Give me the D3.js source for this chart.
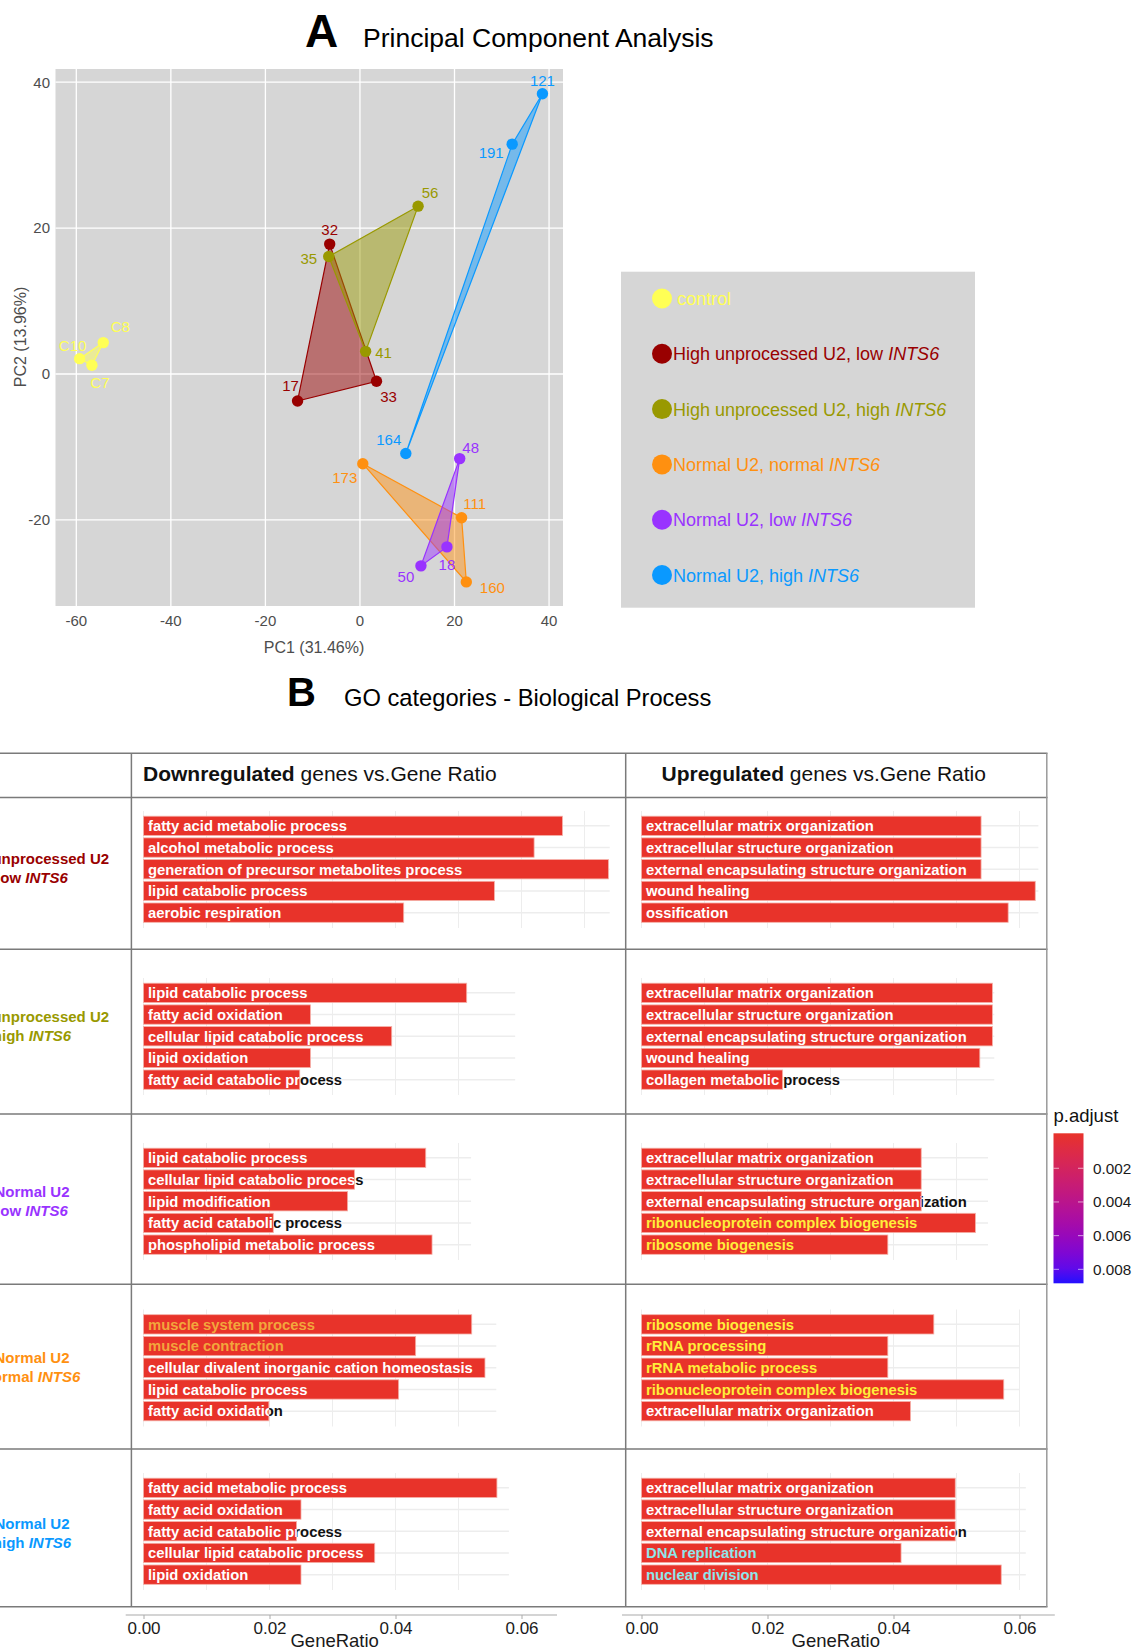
<!DOCTYPE html>
<html>
<head>
<meta charset="utf-8">
<script src="https://cdn.jsdelivr.net/npm/d3@7"></script>
<style>
body { margin: 0; background: #fff; }
svg text { font-family: "Liberation Sans", Arial, Helvetica, sans-serif; }
</style>
</head>
<body>
<svg id="fig" width="1139" height="1651"></svg>
<script>
// ---------- panel A : PCA ----------
const sampleIds   = ["C8", "C10", "C7", "32", "33", "17", "56", "35", "41", "173", "111", "160", "48", "18", "50", "121", "191", "164"];
const pc1         = [-54.3, -59.3, -56.7, -6.4, 3.5, -13.2, 12.3, -6.6, 1.2, 0.6, 21.5, 22.5, 21.1, 18.4, 12.9, 38.6, 32.2, 9.7];
const pc2         = [4.3, 2.1, 1.2, 17.8, -1.0, -3.7, 23.0, 16.1, 3.1, -12.3, -19.7, -28.5, -11.6, -23.7, -26.3, 38.4, 31.5, -10.9];
const sampleGroup = [0, 0, 0, 1, 1, 1, 2, 2, 2, 3, 3, 3, 4, 4, 4, 5, 5, 5];

const groupText   = [["control", ""], ["High unprocessed U2, low ", "INTS6"], ["High unprocessed U2, high ", "INTS6"],
                     ["Normal U2, normal ", "INTS6"], ["Normal U2, low ", "INTS6"], ["Normal U2, high ", "INTS6"]];
const groupColors = ["#ffff55", "#990000", "#999900", "#ff9010", "#9933ff", "#0a99ff"];
const pc1Ticks = [-60, -40, -20, 0, 20, 40];
const pc2Ticks = [-20, 0, 20, 40];

// where each sample label sits relative to its point (px)
const labelNudge = [[17, -16], [-7, -13], [8, 17], [0, -15], [12, 15], [-7, -15], [12, -14], [-20, 2], [18, 1],
                    [-18, 14], [13, -14], [26, 6], [11, -11], [0, 18], [-15, 11], [0, -13], [-21, 8], [-17, -14]];

// ---------- panel B : GO enrichment ----------
const rowLines1 = ["High unprocessed U2", "High unprocessed U2", "Normal U2", "Normal U2", "Normal U2"];
const rowLines2 = ["low ", "high ", "low ", "normal ", "high "];
const rowColors = ["#990000", "#999900", "#9933ff", "#ff9010", "#0a99ff"];

const downTerms = [
  ["fatty acid metabolic process", "alcohol metabolic process", "generation of precursor metabolites process", "lipid catabolic process", "aerobic respiration"],
  ["lipid catabolic process", "fatty acid oxidation", "cellular lipid catabolic process", "lipid oxidation", "fatty acid catabolic process"],
  ["lipid catabolic process", "cellular lipid catabolic process", "lipid modification", "fatty acid catabolic process", "phospholipid metabolic process"],
  ["muscle system process", "muscle contraction", "cellular divalent inorganic cation homeostasis", "lipid catabolic process", "fatty acid oxidation"],
  ["fatty acid metabolic process", "fatty acid oxidation", "fatty acid catabolic process", "cellular lipid catabolic process", "lipid oxidation"]
];
const downRatio = [
  [0.0665, 0.0620, 0.0738, 0.0557, 0.0413],
  [0.0513, 0.0265, 0.0394, 0.0265, 0.0248],
  [0.0448, 0.0335, 0.0324, 0.0206, 0.0458],
  [0.0521, 0.0432, 0.0542, 0.0405, 0.0199],
  [0.0561, 0.0250, 0.0243, 0.0367, 0.0250]
];
const downLimit = [0.074, 0.059, 0.052, 0.056, 0.058];

const upTerms = [
  ["extracellular matrix organization", "extracellular structure organization", "external encapsulating structure organization", "wound healing", "ossification"],
  ["extracellular matrix organization", "extracellular structure organization", "external encapsulating structure organization", "wound healing", "collagen metabolic process"],
  ["extracellular matrix organization", "extracellular structure organization", "external encapsulating structure organization", "ribonucleoprotein complex biogenesis", "ribosome biogenesis"],
  ["ribosome biogenesis", "rRNA processing", "rRNA metabolic process", "ribonucleoprotein complex biogenesis", "extracellular matrix organization"],
  ["extracellular matrix organization", "extracellular structure organization", "external encapsulating structure organization", "DNA replication", "nuclear division"]
];
const upRatio = [
  [0.0539, 0.0539, 0.0539, 0.0625, 0.0582],
  [0.0557, 0.0557, 0.0557, 0.0537, 0.0224],
  [0.0444, 0.0444, 0.0444, 0.0530, 0.0391],
  [0.0464, 0.0391, 0.0391, 0.0575, 0.0427],
  [0.0498, 0.0498, 0.0498, 0.0412, 0.0571]
];
const upLimit = [0.063, 0.056, 0.055, 0.060, 0.061];

const ratioTicks = [0, 0.02, 0.04, 0.06];
const padjTicks = [0.002, 0.004, 0.006, 0.008];
const padjRange = [0, 0.00883];

// terms whose label is printed in a highlight colour
const termHighlight = {
  "muscle system process": "#f2a63c", "muscle contraction": "#f2a63c",
  "ribosome biogenesis": "#ffee3a", "rRNA processing": "#ffee3a", "rRNA metabolic process": "#ffee3a",
  "ribonucleoprotein complex biogenesis": "#ffee3a",
  "DNA replication": "#8ee6ea", "nuclear division": "#8ee6ea"
};

const svg = d3.select("#fig");
svg.append("rect").attr("width", 1139).attr("height", 1651).attr("fill", "#fff");

// ======================= A =======================
svg.append("text").attr("x", 305).attr("y", 47).attr("font-size", 46).attr("font-weight", "bold").text("A");
svg.append("text").attr("x", 363).attr("y", 46.5).attr("font-size", 26.5).text("Principal Component Analysis");

const px = d3.scaleLinear().domain([-64.4, 42.95]).range([55.5, 563]);
const py = d3.scaleLinear().domain([-31.8, 41.8]).range([606, 69]);

svg.append("rect").attr("x", 55.5).attr("y", 69).attr("width", 563 - 55.5).attr("height", 606 - 69).attr("fill", "#d6d6d6");

const grid = svg.append("g");
grid.selectAll(".gx").data(pc1Ticks).enter().append("line")
  .attr("x1", d => px(d)).attr("x2", d => px(d)).attr("y1", 69).attr("y2", 606)
  .attr("stroke", "#fff").attr("stroke-width", 1.3);
grid.selectAll(".gy").data(pc2Ticks).enter().append("line")
  .attr("y1", d => py(d)).attr("y2", d => py(d)).attr("x1", 55.5).attr("x2", 563)
  .attr("stroke", "#fff").attr("stroke-width", 1.3);

svg.append("g").selectAll("text").data(pc1Ticks).enter().append("text")
  .attr("x", d => px(d)).attr("y", 626).attr("text-anchor", "middle")
  .attr("font-size", 15).attr("fill", "#4d4d4d").text(d => d);
svg.append("g").selectAll("text").data(pc2Ticks).enter().append("text")
  .attr("x", 50).attr("y", d => py(d)).attr("dy", "0.36em").attr("text-anchor", "end")
  .attr("font-size", 15).attr("fill", "#4d4d4d").text(d => d);
svg.append("text").attr("x", 314).attr("y", 653).attr("text-anchor", "middle")
  .attr("font-size", 16).attr("fill", "#4d4d4d").text("PC1 (31.46%)");
svg.append("text").attr("transform", "translate(26,337) rotate(-90)").attr("text-anchor", "middle")
  .attr("font-size", 16).attr("fill", "#4d4d4d").text("PC2 (13.96%)");

const samples = sampleIds.map((id, i) => ({id: id, x: pc1[i], y: pc2[i], g: sampleGroup[i], nudge: labelNudge[i]}));

// hull per group
groupColors.forEach((col, gi) => {
  const pts = samples.filter(s => s.g === gi).map(s => [px(s.x), py(s.y)]);
  const hull = d3.polygonHull(pts);
  svg.append("path")
    .attr("d", "M" + hull.join("L") + "Z")
    .attr("fill", col).attr("fill-opacity", 0.48)
    .attr("stroke", col).attr("stroke-width", 1.2);
});

svg.append("g").selectAll("circle").data(samples).enter().append("circle")
  .attr("cx", d => px(d.x)).attr("cy", d => py(d.y)).attr("r", 5.7)
  .attr("fill", d => groupColors[d.g]);

svg.append("g").selectAll("text").data(samples).enter().append("text")
  .attr("x", d => px(d.x) + d.nudge[0]).attr("y", d => py(d.y) + d.nudge[1])
  .attr("dy", "0.36em").attr("text-anchor", "middle").attr("font-size", 15)
  .attr("fill", d => groupColors[d.g]).text(d => d.id);

// legend
svg.append("rect").attr("x", 621).attr("y", 271.7).attr("width", 354).attr("height", 336).attr("fill", "#d6d6d6");
const ly = d3.scalePoint().domain(d3.range(groupText.length)).range([298.5, 575]);
const leg = svg.append("g").selectAll("g").data(groupText).enter().append("g");
leg.append("circle").attr("cx", 662).attr("cy", (d, i) => ly(i)).attr("r", 10).attr("fill", (d, i) => groupColors[i]);
const lt = leg.append("text").attr("x", (d, i) => i === 0 ? 677 : 673).attr("y", (d, i) => ly(i) + 6.5)
  .attr("font-size", 18).attr("fill", (d, i) => groupColors[i]);
lt.append("tspan").text(d => d[0]);
lt.append("tspan").attr("font-style", "italic").text(d => d[1]);

// ======================= B =======================
svg.append("text").attr("x", 287).attr("y", 706).attr("font-size", 40).attr("font-weight", "bold").text("B");
svg.append("text").attr("x", 344).attr("y", 705.5).attr("font-size", 23.7).text("GO categories - Biological Process");

const hLines = [753.3, 797.5, 949.3, 1114, 1284.3, 1449, 1606.7];
const vLines = [131.4, 625.7, 1046.8];
const table = svg.append("g");
table.selectAll(".h").data(hLines).enter().append("line")
  .attr("x1", 0).attr("x2", 1047.5).attr("y1", d => d).attr("y2", d => d)
  .attr("stroke", "#7a7a7a").attr("stroke-width", 1.5);
table.selectAll(".v").data(vLines).enter().append("line")
  .attr("x1", d => d).attr("x2", d => d).attr("y1", hLines[0]).attr("y2", hLines[hLines.length - 1])
  .attr("stroke", (d, i) => i === 2 ? "#9a9a9a" : "#7a7a7a").attr("stroke-width", 1.5);

// column headers
[["Downregulated", 143], ["Upregulated", 661.5]].forEach(h => {
  const t = svg.append("text").attr("x", h[1]).attr("y", 780.5).attr("font-size", 21).attr("fill", "#111");
  t.append("tspan").attr("font-weight", "bold").text(h[0]);
  t.append("tspan").text(" genes vs.Gene Ratio");
});

// row labels (cut by the left page edge, as in the figure)
const rowLabelY = [864, 1022, 1197, 1363, 1529];
rowLines1.forEach((l1, ri) => {
  const g = svg.append("g").attr("fill", rowColors[ri]).attr("font-size", 15).attr("font-weight", "bold");
  g.append("text").attr("x", 32).attr("y", rowLabelY[ri]).attr("text-anchor", "middle").text(l1);
  const t2 = g.append("text").attr("x", 32).attr("y", rowLabelY[ri] + 19).attr("text-anchor", "middle");
  t2.append("tspan").text(rowLines2[ri]);
  t2.append("tspan").attr("font-style", "italic").text("INTS6");
});

// bar cells
const blockTop = [816, 983, 1148, 1314.5, 1478];
const barFill = "#e8332a";
const columns = [
  {terms: downTerms, ratio: downRatio, limit: downLimit, x: d3.scaleLinear().domain([0, 0.06]).range([143.5, 521.5]), axisLine: [125.7, 557], titleX: 334.7},
  {terms: upTerms, ratio: upRatio, limit: upLimit, x: d3.scaleLinear().domain([0, 0.06]).range([641.5, 1019.5]), axisLine: [622, 1054.8], titleX: 835.8}
];
const defs = svg.append("defs");

columns.forEach((col, ci) => {
  const xs = col.x;
  col.terms.forEach((terms, ri) => {
    const top = blockTop[ri];
    const y = d3.scaleBand().domain(terms).range([top - 1, top + 107.5]).paddingInner(0.11).paddingOuter(0.055);
    const cell = svg.append("g");
    const lim = col.limit[ri];
    // faint panel grid
    cell.selectAll(".gv").data(d3.range(0, lim + 1e-9, 0.01)).enter().append("line")
      .attr("x1", d => xs(d)).attr("x2", d => xs(d)).attr("y1", top - 5).attr("y2", top + 112)
      .attr("stroke", "#ededed").attr("stroke-width", 1);
    cell.selectAll(".gh").data(terms).enter().append("line")
      .attr("x1", xs(0)).attr("x2", xs(lim)).attr("y1", d => y(d) + y.bandwidth() / 2).attr("y2", d => y(d) + y.bandwidth() / 2)
      .attr("stroke", "#ededed").attr("stroke-width", 1.5);

    terms.forEach((term, i) => {
      const v = col.ratio[ri][i];
      const bx = xs(0), by = y(term), bw = xs(v) - xs(0), bh = y.bandwidth();
      const id = "clip" + ci + "_" + ri + "_" + i;
      defs.append("clipPath").attr("id", id).append("rect")
        .attr("x", bx).attr("y", by).attr("width", bw).attr("height", bh);
      const tx = bx + 4.5, tyc = by + bh / 2;
      cell.append("text").attr("x", tx).attr("y", tyc).attr("dy", "0.36em")
        .attr("font-size", 14.8).attr("font-weight", "bold").attr("fill", "#111").text(term);
      cell.append("rect").attr("x", bx).attr("y", by).attr("width", bw).attr("height", bh)
        .attr("fill", barFill).attr("stroke", "#f5b0a8").attr("stroke-width", 0.8);
      cell.append("text").attr("x", tx).attr("y", tyc).attr("dy", "0.36em")
        .attr("font-size", 14.8).attr("font-weight", "bold")
        .attr("fill", termHighlight[term] || "#fff")
        .attr("clip-path", "url(#" + id + ")").text(term);
    });
  });

  // bottom GeneRatio axis
  const ax = svg.append("g").attr("transform", "translate(0,1615)")
    .call(d3.axisBottom(xs).tickValues(ratioTicks).tickFormat(d3.format(".2f")).tickSize(4).tickSizeOuter(0));
  ax.select(".domain").remove();
  ax.selectAll(".tick line").attr("stroke", "#aaa");
  ax.selectAll(".tick text").attr("font-size", 17).attr("fill", "#1a1a1a");
  svg.append("line").attr("x1", col.axisLine[0]).attr("x2", col.axisLine[1]).attr("y1", 1615).attr("y2", 1615)
    .attr("stroke", "#aaa").attr("stroke-width", 1.2);
  svg.append("text").attr("x", col.titleX).attr("y", 1647).attr("text-anchor", "middle")
    .attr("font-size", 18.5).attr("fill", "#1a1a1a").text("GeneRatio");
});

// p.adjust colour bar
const padjY = d3.scaleLinear().domain(padjRange).range([1134.6, 1283.3]);
const padjCol = d3.scaleSequential(d3.interpolateLab("#e8332a", "#2410ff")).domain(padjRange);
const grad = defs.append("linearGradient").attr("id", "padj").attr("x1", 0).attr("x2", 0).attr("y1", 0).attr("y2", 1);
d3.range(0, 1.0001, 0.1).forEach(t => {
  grad.append("stop").attr("offset", t).attr("stop-color", padjCol(padjRange[0] + t * (padjRange[1] - padjRange[0])));
});
svg.append("text").attr("x", 1053.5).attr("y", 1121.5).attr("font-size", 18.5).attr("fill", "#111").text("p.adjust");
svg.append("rect").attr("x", 1053.5).attr("y", 1133.3).attr("width", 30)
  .attr("height", padjY(padjRange[1]) - 1133.3).attr("fill", "url(#padj)");
const pt = svg.append("g").selectAll("g").data(padjTicks).enter().append("g");
pt.append("line").attr("x1", 1053.5).attr("x2", 1059).attr("y1", d => padjY(d)).attr("y2", d => padjY(d))
  .attr("stroke", "#fff").attr("stroke-opacity", 0.6);
pt.append("line").attr("x1", 1078).attr("x2", 1083.5).attr("y1", d => padjY(d)).attr("y2", d => padjY(d))
  .attr("stroke", "#fff").attr("stroke-opacity", 0.6);
pt.append("text").attr("x", 1093).attr("y", d => padjY(d)).attr("dy", "0.36em")
  .attr("font-size", 15.3).attr("fill", "#1a1a1a").text(d => d3.format(".3f")(d));
</script>
</body>
</html>
